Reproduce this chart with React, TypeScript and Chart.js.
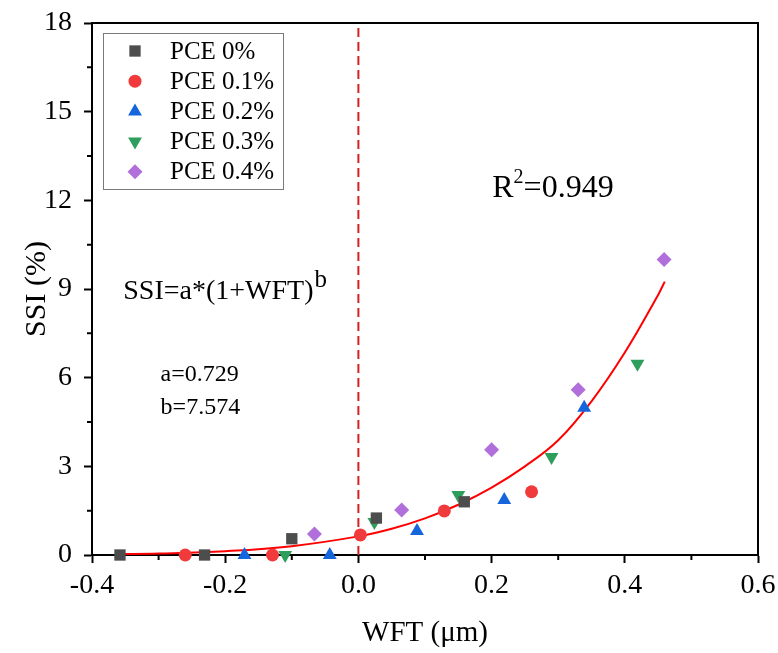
import React, { useEffect, useRef } from 'react';
import { Chart, registerables } from 'chart.js';

Chart.register(...registerables);

const FONT = '"Liberation Serif", "Times New Roman", serif';

// Series values
const pce0X = [-0.358, -0.231, -0.1, 0.027, 0.159];
const pce0Y = [0, 0, 0.55, 1.25, 1.8];
const pce1X = [-0.26, -0.129, 0.003, 0.129, 0.26];
const pce1Y = [0, 0, 0.68, 1.49, 2.14];
const pce2X = [-0.171, -0.043, 0.088, 0.219, 0.339];
const pce2Y = [0, 0, 0.81, 1.86, 4.98];
const pce3X = [-0.11, 0.024, 0.15, 0.29, 0.419];
const pce3Y = [0, 1.12, 2.03, 3.32, 6.47];
const pce4X = [-0.066, 0.065, 0.2, 0.33, 0.459];
const pce4Y = [0.71, 1.52, 3.56, 5.59, 10.0];

// Fitted curve
const fitX = [-0.36, -0.3, -0.2, -0.1, 0, 0.05, 0.1, 0.15, 0.2, 0.25, 0.3, 0.35, 0.4, 0.45, 0.46];
const fitY = [0.03, 0.05, 0.13, 0.3, 0.63, 0.89, 1.24, 1.7, 2.28, 3.0, 3.88, 5.2, 6.85, 8.8, 9.25];

// Dashed reference line at WFT = 0
const refX = [0, 0];
const refY = [0, 18];

const seriesLabels = ['PCE 0%', 'PCE 0.1%', 'PCE 0.2%', 'PCE 0.3%', 'PCE 0.4%'];
const xMinorTicks = [-0.3, -0.1, 0.1, 0.3, 0.5];
const yMinorTicks = [1.5, 4.5, 7.5, 10.5, 13.5, 16.5];

const toPts = (xs: number[], ys: number[]) => xs.map((x, i) => ({ x, y: ys[i] }));

function drawMarker(ctx: CanvasRenderingContext2D, style: string, rot: number, x: number, y: number, r: number, color: string) {
  ctx.save();
  ctx.fillStyle = color;
  ctx.beginPath();
  if (style === 'rect') {
    const s = Math.SQRT1_2 * r;
    ctx.rect(x - s, y - s, 2 * s, 2 * s);
  } else if (style === 'circle') {
    ctx.arc(x, y, r, 0, Math.PI * 2);
  } else if (style === 'triangle') {
    let a = (rot * Math.PI) / 180;
    ctx.moveTo(x + Math.sin(a) * r, y - Math.cos(a) * r);
    a += (2 * Math.PI) / 3;
    ctx.lineTo(x + Math.sin(a) * r, y - Math.cos(a) * r);
    a += (2 * Math.PI) / 3;
    ctx.lineTo(x + Math.sin(a) * r, y - Math.cos(a) * r);
    ctx.closePath();
  } else if (style === 'rectRot') {
    ctx.moveTo(x - r, y);
    ctx.lineTo(x, y - r);
    ctx.lineTo(x + r, y);
    ctx.lineTo(x, y + r);
    ctx.closePath();
  }
  ctx.fill();
  ctx.restore();
}

const decorPlugin = {
  id: 'decor',
  afterDraw(chart: any) {
    const ctx: CanvasRenderingContext2D = chart.ctx;
    const area = chart.chartArea;
    const xs = chart.scales.x;
    const ys = chart.scales.y;
    ctx.save();
    // frame top & right
    ctx.strokeStyle = '#000';
    ctx.lineWidth = 2;
    ctx.beginPath();
    ctx.moveTo(area.left, area.top);
    ctx.lineTo(area.right, area.top);
    ctx.lineTo(area.right, area.bottom);
    ctx.stroke();
    // minor ticks
    ctx.beginPath();
    xMinorTicks.forEach((v) => {
      const px = xs.getPixelForValue(v);
      ctx.moveTo(px, area.bottom);
      ctx.lineTo(px, area.bottom + 5);
    });
    yMinorTicks.forEach((v) => {
      const py = ys.getPixelForValue(v);
      ctx.moveTo(area.left, py);
      ctx.lineTo(area.left - 5, py);
    });
    ctx.stroke();

    // legend
    const lx = area.left + 11;
    const ly = area.top + 10;
    const lw = 180;
    const lh = 156;
    ctx.fillStyle = '#fff';
    ctx.fillRect(lx, ly, lw, lh);
    ctx.strokeStyle = '#7a7a7a';
    ctx.lineWidth = 1;
    ctx.strokeRect(lx + 0.5, ly + 0.5, lw, lh);
    ctx.font = `25px ${FONT}`;
    ctx.textBaseline = 'middle';
    ctx.textAlign = 'left';
    chart.data.datasets.forEach((ds: any, i: number) => {
      if (!ds.inLegend) return;
      const cy = ly + 18 + i * 30.2;
      drawMarker(ctx, ds.pointStyle, ds.pointRotation || 0, lx + 32, cy, ds.pointRadius, ds.backgroundColor);
      ctx.fillStyle = '#000';
      ctx.fillText(ds.label, lx + 67, cy + 1);
    });

    // annotations
    ctx.fillStyle = '#000';
    const at = (x: number, y: number) => [xs.getPixelForValue(x), ys.getPixelForValue(y)];
    // R^2
    let [px, py] = at(0.201, 12.4);
    ctx.font = `32px ${FONT}`;
    ctx.fillText('R', px, py);
    let w = ctx.measureText('R').width;
    ctx.font = `20px ${FONT}`;
    ctx.fillText('2', px + w, py - 11);
    const w2 = ctx.measureText('2').width;
    ctx.font = `32px ${FONT}`;
    ctx.fillText('=0.949', px + w + w2, py);

    // formula
    [px, py] = at(-0.353, 8.9);
    ctx.font = `28px ${FONT}`;
    const f = 'SSI=a*(1+WFT)';
    ctx.fillText(f, px, py);
    w = ctx.measureText(f).width;
    ctx.font = `25px ${FONT}`;
    ctx.fillText('b', px + w + 1, py - 12);

    ctx.font = `24px ${FONT}`;
    [px, py] = at(-0.297, 6.1);
    ctx.fillText('a=0.729', px, py);
    [px, py] = at(-0.297, 5.0);
    ctx.fillText('b=7.574', px, py);
    ctx.restore();
  },
};

export default function App() {
  const ref = useRef<HTMLCanvasElement | null>(null);
  useEffect(() => {
    if (!ref.current) return;
    const mk = (label: string, xs: number[], ys: number[], color: string, style: string, r: number, rot = 0) => ({
      label,
      data: toPts(xs, ys),
      backgroundColor: color,
      borderColor: color,
      borderWidth: 0,
      pointStyle: style,
      pointRotation: rot,
      pointRadius: r,
      pointHoverRadius: r,
      showLine: false,
      clip: false,
      inLegend: true,
    });
    const chart = new Chart(ref.current, {
      type: 'scatter',
      data: {
        datasets: [
          mk(seriesLabels[0], pce0X, pce0Y, '#4d4d4d', 'rect', 8),
          mk(seriesLabels[1], pce1X, pce1Y, '#f03a3c', 'circle', 6.5),
          mk(seriesLabels[2], pce2X, pce2Y, '#1565dc', 'triangle', 8),
          mk(seriesLabels[3], pce3X, pce3Y, '#2e9e5c', 'triangle', 8, 180),
          mk(seriesLabels[4], pce4X, pce4Y, '#b06fdb', 'rectRot', 7.5),
          {
            label: 'fit',
            data: toPts(fitX, fitY),
            showLine: true,
            borderColor: '#ff0000',
            backgroundColor: '#ff0000',
            borderWidth: 2,
            pointRadius: 0,
            tension: 0.4,
            clip: false,
          },
          {
            label: 'ref',
            data: toPts(refX, refY),
            showLine: true,
            borderColor: '#d42222',
            borderWidth: 2,
            borderDash: [9, 5],
            pointRadius: 0,
          },
        ] as any,
      },
      options: {
        animation: false,
        responsive: true,
        maintainAspectRatio: false,
        layout: { padding: { top: 23, right: 20, left: 0, bottom: 0 } },
        plugins: { legend: { display: false }, tooltip: { enabled: false } },
        scales: {
          x: {
            type: 'linear',
            min: -0.4,
            max: 0.6,
            afterFit: (s: any) => { s.height = 98; s.paddingLeft = 0; s.paddingRight = 0; },
            ticks: {
              stepSize: 0.2,
              color: '#000',
              padding: 6,
              font: { family: FONT, size: 28 },
              callback: (v: any) => (Math.abs(v) < 1e-9 ? '0.0' : Number(v).toFixed(1)),
            },
            grid: { drawOnChartArea: false, drawTicks: true, tickLength: 8, tickWidth: 2, tickColor: '#000' },
            border: { display: true, color: '#000', width: 2 },
            title: { display: true, text: 'WFT (\u03bcm)', color: '#000', font: { family: FONT, size: 29 }, padding: { top: 0, bottom: 2 } },
          },
          y: {
            type: 'linear',
            min: 0,
            max: 18,
            afterFit: (s: any) => { s.width = 92; s.paddingTop = 0; s.paddingBottom = 0; },
            ticks: {
              stepSize: 3,
              color: '#000',
              padding: 12,
              font: { family: FONT, size: 28 },
            },
            grid: { drawOnChartArea: false, drawTicks: true, tickLength: 8, tickWidth: 2, tickColor: '#000' },
            border: { display: true, color: '#000', width: 2 },
            title: { display: true, text: 'SSI (%)', color: '#000', font: { family: FONT, size: 30 }, padding: { top: 19, bottom: 0 } },
          },
        },
      } as any,
      plugins: [decorPlugin],
    });
    return () => chart.destroy();
  }, []);
  return (
    <div style={{ position: 'absolute', left: 0, top: 0, width: 778, height: 653, background: '#fff' }}>
      <canvas ref={ref} />
    </div>
  );
}
